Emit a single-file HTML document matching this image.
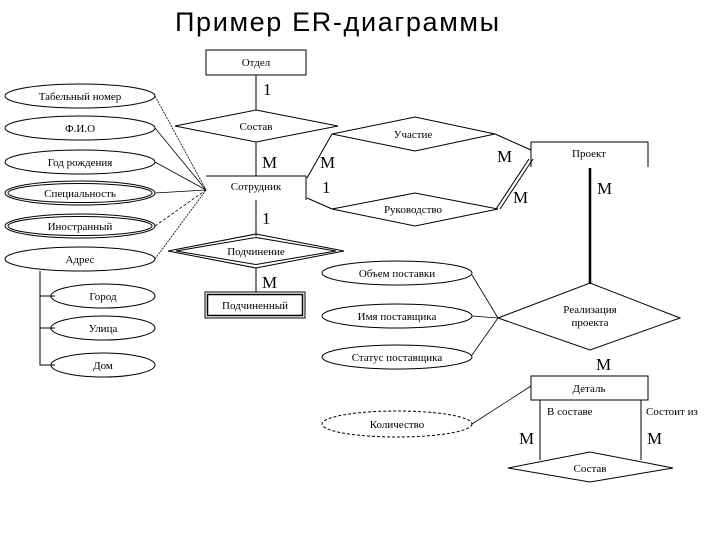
<!DOCTYPE html>
<html><head><meta charset="utf-8"><style>
html,body{margin:0;padding:0;background:#fff;width:720px;height:540px;overflow:hidden}
svg{display:block}
text{font-family:"Liberation Serif",serif;fill:#000}
.s{font-size:11px}
.b{font-size:17px}
</style></head><body>
<svg width="720" height="540" viewBox="0 0 720 540" xmlns="http://www.w3.org/2000/svg" fill="none" stroke="#000" stroke-width="1">
<text x="337" y="31" text-anchor="middle" stroke="none" textLength="324" style="font-family:'Liberation Sans',sans-serif;font-size:27px">Пример ER-диаграммы</text>

<rect x="206" y="50" width="100" height="25"/>
<text class="s" x="256" y="66" text-anchor="middle" stroke="none">Отдел</text>
<line x1="256" y1="75" x2="256" y2="110"/>
<text class="b" x="263" y="95" stroke="none">1</text>
<polygon points="175,126 256,110 338,126 256,142"/>
<text class="s" x="256" y="130" text-anchor="middle" stroke="none">Состав</text>
<line x1="256" y1="142" x2="256" y2="176"/>
<text class="b" x="262" y="168" stroke="none">M</text>

<polyline points="206,176 306,176 306,200"/>
<text class="s" x="256" y="190" text-anchor="middle" stroke="none">Сотрудник</text>

<g stroke-width="0.8">
<line x1="155" y1="96" x2="206" y2="190" stroke-dasharray="2,1"/>
<line x1="155" y1="128" x2="206" y2="190"/>
<line x1="155" y1="162" x2="206" y2="190"/>
<line x1="155" y1="193" x2="206" y2="190"/>
<line x1="155" y1="226" x2="206" y2="190" stroke-dasharray="3,2"/>
<line x1="155" y1="259" x2="206" y2="190" stroke-dasharray="2,1"/>
</g>
<ellipse cx="80" cy="96" rx="75" ry="12"/>
<text class="s" x="80" y="100" text-anchor="middle" stroke="none">Табельный номер</text>
<ellipse cx="80" cy="128" rx="75" ry="12"/>
<text class="s" x="80" y="132" text-anchor="middle" stroke="none">Ф.И.О</text>
<ellipse cx="80" cy="162" rx="75" ry="12"/>
<text class="s" x="80" y="166" text-anchor="middle" stroke="none">Год рождения</text>
<ellipse cx="80" cy="193" rx="75" ry="12"/>
<ellipse cx="80" cy="193" rx="72" ry="9.5"/>
<text class="s" x="80" y="197" text-anchor="middle" stroke="none">Специальность</text>
<ellipse cx="80" cy="226" rx="75" ry="12"/>
<ellipse cx="80" cy="226" rx="72" ry="9.5"/>
<text class="s" x="80" y="230" text-anchor="middle" stroke="none">Иностранный</text>
<ellipse cx="80" cy="259" rx="75" ry="12"/>
<text class="s" x="80" y="263" text-anchor="middle" stroke="none">Адрес</text>
<polyline points="40,271 40,365 55,365"/>
<line x1="40" y1="296" x2="55" y2="296"/>
<line x1="40" y1="328" x2="55" y2="328"/>
<ellipse cx="103" cy="296" rx="52" ry="12"/>
<text class="s" x="103" y="300" text-anchor="middle" stroke="none">Город</text>
<ellipse cx="103" cy="328" rx="52" ry="12"/>
<text class="s" x="103" y="332" text-anchor="middle" stroke="none">Улица</text>
<ellipse cx="103" cy="365" rx="52" ry="12"/>
<text class="s" x="103" y="369" text-anchor="middle" stroke="none">Дом</text>

<line x1="256" y1="200" x2="256" y2="236"/>
<text class="b" x="262" y="224" stroke="none">1</text>
<polygon points="168,251 256,234 344,251 256,268"/>
<polygon points="176,251 256,237.5 336,251 256,264.5"/>
<text class="s" x="256" y="255" text-anchor="middle" stroke="none">Подчинение</text>
<line x1="256" y1="268" x2="256" y2="292"/>
<text class="b" x="262" y="288" stroke="none">M</text>
<rect x="205" y="292" width="100" height="26"/>
<rect x="207.5" y="294.5" width="95" height="21" stroke-width="1.5"/>
<text class="s" x="255" y="309" text-anchor="middle" stroke="none">Подчиненный</text>

<line x1="307" y1="178" x2="332" y2="134"/>
<line x1="307" y1="198" x2="332" y2="209"/>
<text class="b" x="320" y="168" stroke="none">M</text>
<text class="b" x="322" y="193" stroke="none">1</text>
<polygon points="332,134 415,117 495,134 415,151"/>
<text class="s" x="413" y="138" text-anchor="middle" stroke="none">Участие</text>
<polygon points="332,209 415,193 498,209 415,226"/>
<text class="s" x="413" y="213" text-anchor="middle" stroke="none">Руководство</text>
<line x1="495" y1="134" x2="531" y2="150"/>
<line x1="496" y1="209" x2="529" y2="159"/>
<line x1="500" y1="209" x2="533" y2="159"/>
<text class="b" x="497" y="162" stroke="none">M</text>
<text class="b" x="513" y="203" stroke="none">M</text>

<polyline points="531,167 531,142 648,142 648,167"/>
<text class="s" x="589" y="157" text-anchor="middle" stroke="none">Проект</text>
<line x1="590" y1="168" x2="590" y2="284" stroke-width="2.5"/>
<text class="b" x="597" y="194" stroke="none">M</text>
<polygon points="498,318 590,283 680,318 590,350"/>
<text class="s" x="590" y="313" text-anchor="middle" stroke="none">Реализация</text>
<text class="s" x="590" y="326" text-anchor="middle" stroke="none">проекта</text>

<ellipse cx="397" cy="273" rx="75" ry="12"/>
<text class="s" x="397" y="277" text-anchor="middle" stroke="none">Объем поставки</text>
<ellipse cx="397" cy="316" rx="75" ry="12"/>
<text class="s" x="397" y="320" text-anchor="middle" stroke="none">Имя поставщика</text>
<ellipse cx="397" cy="357" rx="75" ry="12"/>
<text class="s" x="397" y="361" text-anchor="middle" stroke="none">Статус поставщика</text>
<line x1="472" y1="275" x2="498" y2="318" stroke-width="0.8"/>
<line x1="472" y1="316" x2="498" y2="318" stroke-width="0.8"/>
<line x1="472" y1="355" x2="498" y2="318" stroke-width="0.8"/>

<text class="b" x="596" y="370" stroke="none">M</text>
<rect x="531" y="376" width="117" height="24"/>
<text class="s" x="589" y="392" text-anchor="middle" stroke="none">Деталь</text>
<line x1="540" y1="400" x2="540" y2="460"/>
<line x1="641" y1="400" x2="641" y2="460"/>
<text class="s" x="547" y="415" stroke="none">В составе</text>
<text class="s" x="646" y="415" stroke="none">Состоит из</text>
<text class="b" x="519" y="444" stroke="none">M</text>
<text class="b" x="647" y="444" stroke="none">M</text>
<polygon points="508,468 590,452 673,468 590,482"/>
<text class="s" x="590" y="472" text-anchor="middle" stroke="none">Состав</text>

<ellipse cx="397" cy="424" rx="75" ry="13" stroke-dasharray="3,2"/>
<text class="s" x="397" y="428" text-anchor="middle" stroke="none">Количество</text>
<line x1="472" y1="424" x2="531" y2="386" stroke-width="0.8"/>
</svg>
</body></html>
